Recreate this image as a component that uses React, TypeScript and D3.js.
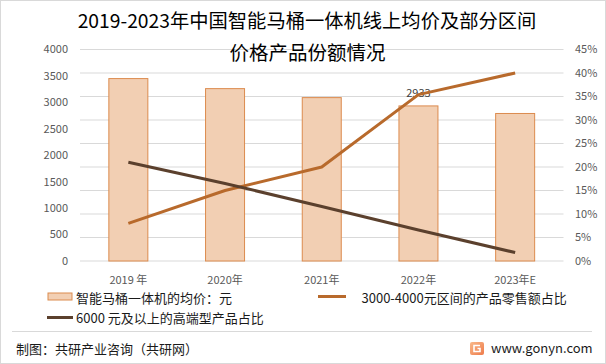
import React from "react";
import * as d3 from "d3";

const categories = ["2019 年", "2020年", "2021年", "2022年", "2023年E"];
const avgPrice = [3450, 3260, 3090, 2933, 2790];
const share3000to4000 = [8, 15, 20, 35.4, 40];
const shareAbove6000 = [21, 16.5, 11.6, 6.6, 1.8];
const leftTicks = [0, 500, 1000, 1500, 2000, 2500, 3000, 3500, 4000];
const rightTicks = [0, 5, 10, 15, 20, 25, 30, 35, 40, 45];
const labeledIndex = [3];

const W = 606;
const H = 364;
const FONT = "'Noto Sans CJK SC', 'Noto Sans', sans-serif";

export default function App() {
  const plotLeft = 80;
  const plotRight = 563.5;
  const plotTop = 49.5;
  const plotBottom = 261;

  const xc = d3.scalePoint<string>().domain(categories).range([plotLeft, plotRight]).padding(0.5);
  const yL = d3.scaleLinear().domain([0, 4000]).range([plotBottom, plotTop]);
  const yR = d3.scaleLinear().domain([0, 45]).range([plotBottom, plotTop]);

  const line = d3
    .line<number>()
    .x((_, i) => xc(categories[i]) as number)
    .y((d) => yR(d));

  const barW = 39;

  return (
    <div style={{ position: "fixed", left: 0, top: 0 }}>
      <svg width={W} height={H} style={{ display: "block", fontFamily: FONT }}>
        <rect x={0} y={0} width={W} height={H} fill="#ffffff" />
        <rect x={0.5} y={0.5} width={W - 1} height={H - 1} fill="none" stroke="#d9d9d9" />

        {rightTicks.map((t) => (
          <line key={t} x1={plotLeft} x2={plotRight} y1={yR(t)} y2={yR(t)} stroke="#d9d9d9" strokeWidth={1} />
        ))}

        {avgPrice.map((v, i) => {
          const cx = xc(categories[i]) as number;
          return (
            <rect
              key={i}
              x={cx - barW / 2}
              y={yL(v)}
              width={barW}
              height={plotBottom - yL(v)}
              fill="#F2CFB3"
              stroke="#DC8B4E"
              strokeWidth={1}
            />
          );
        })}

        {labeledIndex.map((i) => (
          <text key={i} x={xc(categories[i]) as number} y={yL(avgPrice[i]) - 9} textAnchor="middle" fontSize={11} fill="#404040">
            {avgPrice[i]}
          </text>
        ))}

        <path d={line(share3000to4000) || ""} fill="none" stroke="#B86A2C" strokeWidth={3} strokeLinejoin="round" />
        <path d={line(shareAbove6000) || ""} fill="none" stroke="#5B402D" strokeWidth={3} strokeLinejoin="round" />

        {leftTicks.map((t) => (
          <text key={t} x={68} y={yL(t)} dy="0.35em" textAnchor="end" fontSize={11} fill="#595959">
            {t}
          </text>
        ))}
        {rightTicks.map((t) => (
          <text key={t} x={575} y={yR(t)} dy="0.35em" textAnchor="start" fontSize={11} fill="#595959">
            {t + "%"}
          </text>
        ))}
        {categories.map((c) => (
          <text key={c} x={xc(c) as number} y={280} dy="0.35em" textAnchor="middle" fontSize={11} fill="#595959">
            {c}
          </text>
        ))}

        <text x={307} y={21.5} dy="0.35em" textAnchor="middle" fontSize={19.3} fill="#000">
          2019-2023年中国智能马桶一体机线上均价及部分区间
        </text>
        <text x={307.5} y={53.5} dy="0.35em" textAnchor="middle" fontSize={19.5} fill="#000">
          价格产品份额情况
        </text>

        <rect x={48} y={293} width={24} height={7} fill="#F2CFB3" stroke="#DC8B4E" strokeWidth={1} />
        <text x={76} y={298} dy="0.35em" fontSize={13} fill="#1a1a1a">
          智能马桶一体机的均价：元
        </text>
        <line x1={318} x2={346} y1={296.5} y2={296.5} stroke="#B86A2C" strokeWidth={3} />
        <text x={361.5} y={298} dy="0.35em" fontSize={13} fill="#1a1a1a">
          3000-4000元区间的产品零售额占比
        </text>
        <line x1={47} x2={73} y1={317.5} y2={317.5} stroke="#5B402D" strokeWidth={3} />
        <text x={76} y={318} dy="0.35em" fontSize={13} fill="#1a1a1a">
          6000 元及以上的高端型产品占比
        </text>

        <line x1={12} x2={592} y1={331.5} y2={331.5} stroke="#d9d9d9" strokeWidth={1} />
        <text x={16} y={349} dy="0.35em" fontSize={13} fill="#1a1a1a">
          制图：共研产业咨询（共研网）
        </text>
        <defs>
          <linearGradient id="logoGrad" x1="0" y1="0" x2="1" y2="1">
            <stop offset="0" stopColor="#F9B98A" />
            <stop offset="1" stopColor="#EE7B4B" />
          </linearGradient>
        </defs>
        <rect x={470} y={342} width={14} height={13} rx={2} fill="url(#logoGrad)" />
        <path d="M480 345.5 H474 V351.5 H480 V348.5 H477.5" fill="none" stroke="#fff" strokeWidth={1.6} />
        <text x={491} y={348.5} dy="0.35em" fontSize={13} fill="#1a1a1a">
          www.gonyn.com
        </text>
      </svg>
    </div>
  );
}
